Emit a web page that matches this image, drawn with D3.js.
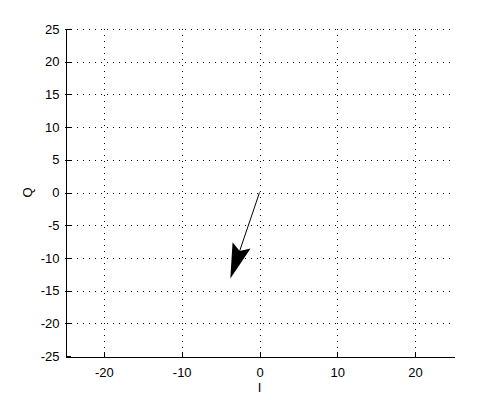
<!DOCTYPE html>
<html>
<head>
<meta charset="utf-8">
<script src="https://cdn.jsdelivr.net/npm/d3@7"></script>
<style>
  body { margin: 0; background: #fff; }
  text { font-family: "Liberation Sans", Arial, sans-serif; font-size: 13px; fill: #000; }
</style>
</head>
<body>
<div id="chart"></div>
<script>
// axis setup
const xDomain = [-25, 25];
const yDomain = [-25, 25];
const xTicks = [-20, -10, 0, 10, 20];
const yTicks = [25, 20, 15, 10, 5, 0, -5, -10, -15, -20, -25];

// the single quiver arrow: start point and end point (I, Q)
const arrowStart = [0, 0];
const arrowEnd = [-3.75, -13.15];

const xLabel = "I";
const yLabel = "Q";

let width = 500, height = 400;
let margin = {top: 29, right: 46, bottom: 44, left: 65};

let svg = d3.select("#chart").append("svg")
    .attr("width", width)
    .attr("height", height);

let x = d3.scaleLinear().domain(xDomain).range([margin.left, width - margin.right]);
let y = d3.scaleLinear().domain(yDomain).range([height - margin.bottom, margin.top]);

// dotted grid
let grid = svg.append("g")
    .attr("stroke", "#000")
    .attr("stroke-width", 1)
    .attr("stroke-dasharray", "1,5")
    .attr("shape-rendering", "crispEdges");

grid.selectAll(".vg")
  .data(xTicks)
  .enter()
  .append("line")
    .attr("x1", d => Math.round(x(d)) + 0.5)
    .attr("x2", d => Math.round(x(d)) + 0.5)
    .attr("y1", y(25))
    .attr("y2", y(-25));

grid.selectAll(".hg")
  .data(yTicks.filter(d => d > -25))
  .enter()
  .append("line")
    .attr("y1", d => Math.round(y(d)) + 0.5)
    .attr("y2", d => Math.round(y(d)) + 0.5)
    .attr("x1", x(-25))
    .attr("x2", x(25));

// plain hyphen for negatives, like the original
let fmt = d => String(d);

// axes (ticks pointing inward, like matlab)
let xAxis = svg.append("g")
    .attr("transform", `translate(0,${Math.round(y(-25)) + 0.5})`)
    .call(d3.axisBottom(x).tickValues(xTicks).tickFormat(fmt).tickSizeInner(-5).tickSizeOuter(0).tickPadding(11));

let yAxis = svg.append("g")
    .attr("transform", `translate(${Math.round(x(-25)) + 0.5},0)`)
    .call(d3.axisLeft(y).tickValues(yTicks).tickFormat(fmt).tickSizeInner(-5).tickSizeOuter(0).tickPadding(6));

[xAxis, yAxis].forEach(a => {
    a.selectAll("path").attr("stroke", "#000").attr("shape-rendering", "crispEdges");
    a.selectAll("line").attr("stroke", "#000").attr("shape-rendering", "crispEdges");
    a.selectAll("text").style("font-family", "Liberation Sans, Arial, sans-serif").style("font-size", "13px");
});

// axis labels
svg.append("text")
    .attr("x", x(0))
    .attr("y", 392)
    .attr("text-anchor", "middle")
    .text(xLabel);

svg.append("text")
    .attr("transform", `translate(32,${y(0)}) rotate(-90)`)
    .attr("text-anchor", "middle")
    .text(yLabel);

// arrow
let x0 = x(arrowStart[0]), y0 = y(arrowStart[1]);
let x1 = x(arrowEnd[0]), y1 = y(arrowEnd[1]);
let dx = x1 - x0, dy = y1 - y0;
let len = Math.sqrt(dx * dx + dy * dy);
let ux = dx / len, uy = dy / len;
let nx = -uy, ny = ux;

let headLen = 35, headHalf = 9.5, notch = 29;

svg.append("line")
    .attr("x1", x0).attr("y1", y0)
    .attr("x2", x1 - ux * notch).attr("y2", y1 - uy * notch)
    .attr("stroke", "#000")
    .attr("stroke-width", 1);

let headPts = [
    [x1, y1],
    [x1 - ux * headLen + nx * headHalf, y1 - uy * headLen + ny * headHalf],
    [x1 - ux * notch, y1 - uy * notch],
    [x1 - ux * headLen - nx * headHalf, y1 - uy * headLen - ny * headHalf]
];

svg.append("path")
    .attr("d", d3.line()(headPts) + "Z")
    .attr("fill", "#000")
    .attr("stroke", "none");
</script>
</body>
</html>
